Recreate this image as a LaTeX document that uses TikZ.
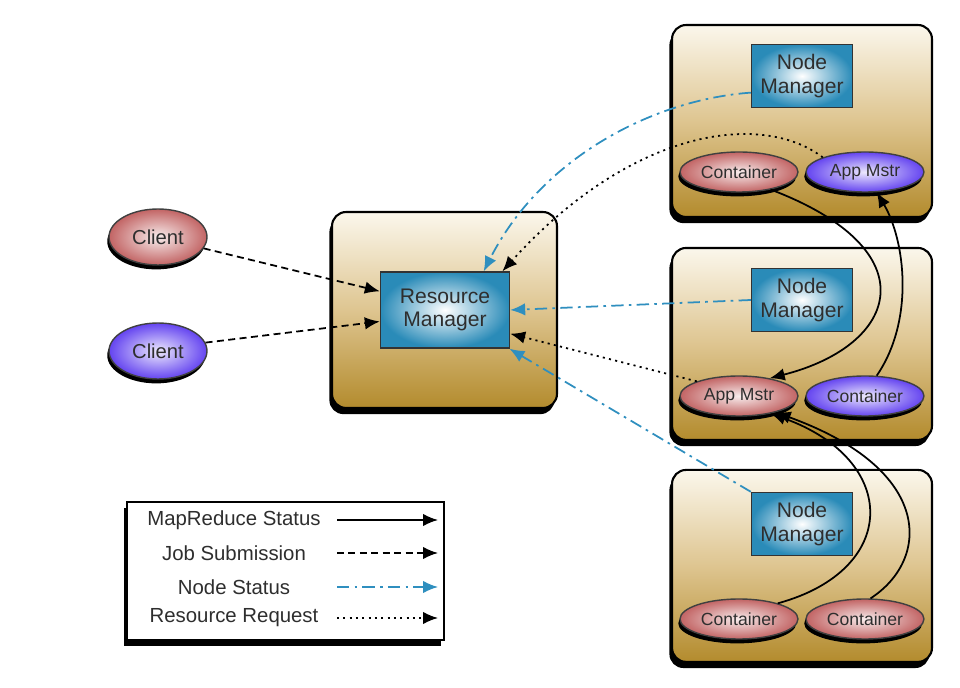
\documentclass[tikz,border=0pt]{standalone}
\usepackage{fontspec}
\setmainfont{Liberation Sans}
\usetikzlibrary{calc, positioning, arrows.meta, shadows, shapes.geometric}

\definecolor{goldtop}{HTML}{FBF7EC}
\definecolor{goldmid}{HTML}{DEC590}
\definecolor{goldbot}{HTML}{B38B2D}
\definecolor{mgrblue}{HTML}{2A8BB8}
\definecolor{redell}{HTML}{C26464}
\definecolor{blueell}{HTML}{6444F0}
\definecolor{statblue}{HTML}{2F8FBF}
\definecolor{txtgray}{HTML}{2E2E2E}

\begin{document}
\begin{tikzpicture}
      [x=0.02cm, y=-0.02cm, node distance=2.52cm,
       >={Latex[length=3mm, width=2.5mm]},
       dropshade/.style={drop shadow={shadow xshift=-1.5pt, shadow yshift=-3.5pt, fill=black, opacity=1}},
       hostbox/.style={draw=black, line width=1.2pt, rounded corners=8pt, minimum width=5.2cm, minimum height=3.84cm,
                       top color=goldtop, bottom color=goldbot, middle color=goldmid, dropshade},
       mgrbox/.style={draw=black!80, line width=0.8pt, inner color=white, outer color=mgrblue, align=center,
                      minimum width=2.02cm, minimum height=1.26cm, text=txtgray, font=\fontsize{12}{13.5}\selectfont},
       oval/.style={ellipse, draw=black!75, line width=0.8pt, minimum width=2.36cm, minimum height=0.8cm, inner sep=0pt,
                    text=txtgray, font=\fontsize{10}{12}\selectfont,
                    drop shadow={shadow xshift=-1pt, shadow yshift=-2.5pt, fill=black, opacity=1}},
       redoval/.style={oval, inner color=white!88!redell, outer color=redell},
       blueoval/.style={oval, inner color=white!88!blueell, outer color=blueell},
       client/.style={minimum width=1.96cm, minimum height=1.12cm, font=\fontsize{11.5}{13}\selectfont},
       legtext/.style={text=txtgray, font=\fontsize{11.6}{13}\selectfont},
       mrstat/.style={->, line width=1pt},
       jobsub/.style={->, line width=1pt, dash pattern=on 4pt off 2.5pt},
       nodestat/.style={->, line width=1pt, statblue, dash pattern=on 7pt off 3pt on 1.5pt off 3pt},
       resreq/.style={->, line width=1pt, dash pattern=on 1.2pt off 2.4pt}]
      \useasboundingbox (0,0) rectangle (960,688);

      % nodes %
      \node[hostbox] (host1) at (802,121) {};
      \node[hostbox, below of = host1, node distance=4.46cm] (host2) {};
      \node[hostbox, below of = host2, node distance=4.44cm] (host3) {};
      \node[hostbox, minimum width=4.5cm, minimum height=3.92cm] (rmhost) at (444.5,310) {};

      \node[mgrbox, minimum width=2.58cm, minimum height=1.52cm] (rm) at (445,310) {Resource\\Manager};
      \node[mgrbox] (nm1) at (802,76) {Node\\Manager};
      \node[mgrbox] (nm2) at (802,300) {Node\\Manager};
      \node[mgrbox] (nm3) at (802,524) {Node\\Manager};

      \node[redoval] (ct1) at (739,172) {Container};
      \node[blueoval, right of = ct1] (am1) {App Mstr};
      \node[redoval] (am2) at (739,396) {App Mstr};
      \node[blueoval, right of = am2] (ct2) {Container};
      \node[redoval] (ct3) at (739,619) {Container};
      \node[redoval, right of = ct3] (ct4) {Container};

      \node[redoval, client] (cl1) at (158,237) {Client};
      \node[blueoval, client] (cl2) at (158,351) {Client};

      % legend %
      \node[draw=black, line width=1pt, fill=white, minimum width=6.34cm, minimum height=2.76cm, dropshade] (legend) at (285.5,571) {};
      \node[legtext] (lg1) at (234,520) {MapReduce Status};
      \node[legtext] (lg2) at (234,553) {Job Submission};
      \node[legtext] (lg3) at (234,587) {Node Status};
      \node[legtext] (lg4) at (234,618) {Resource Request};
      \coordinate (lg1a) at (337,520); \coordinate (lg1b) at (438,520);
      \coordinate (lg2a) at (337,553); \coordinate (lg2b) at (438,553);
      \coordinate (lg3a) at (337,587); \coordinate (lg3b) at (438,587);
      \coordinate (lg4a) at (337,618); \coordinate (lg4b) at (438,618);
      \draw[mrstat] (lg1a) -- (lg1b);
      \draw[jobsub] (lg2a) -- (lg2b);
      \draw[nodestat] (lg3a) -- (lg3b);
      \draw[resreq] (lg4a) -- (lg4b);

      % edges %
      \draw[jobsub] (cl1.-14) -- (rm.164);
      \draw[jobsub] (cl2.10) -- (rm.190);

      \draw[nodestat] (nm1.198) .. controls (650,100) and (540,160) .. (rm.45);
      \draw[nodestat] (nm2.west) -- (rm.east);
      \draw[nodestat] (nm3.north west) -- (rm.-31);

      \draw[resreq] (am1.north west) .. controls (760,110) and (630,130) .. (rm.34);
      \draw[resreq] (am2.north west) -- (rm.-20);

      \draw[mrstat] (ct1.-29) .. controls (930,250) and (900,345) .. (am2.30);
      \draw[mrstat] (ct2.60) .. controls (915,320) and (905,240) .. (am1.-60);
      \draw[mrstat] (ct3.22) .. controls (900,570) and (900,460) .. (am2.-29);
      \draw[mrstat] (ct4.75) .. controls (930,560) and (935,470) .. (am2.-24);

    \end{tikzpicture}
\end{document}
